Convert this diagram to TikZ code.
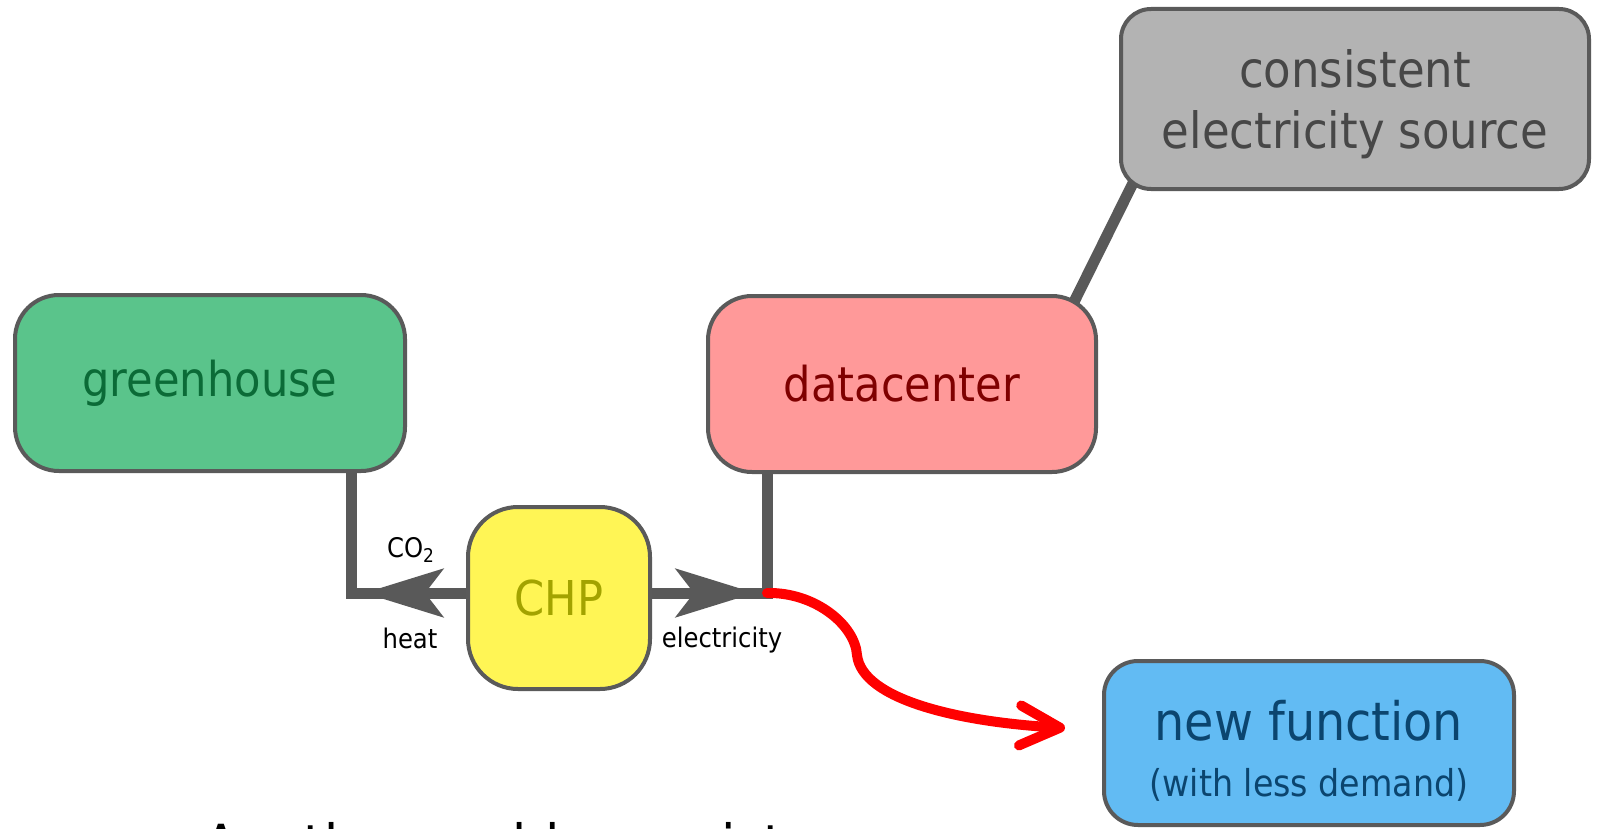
\documentclass[tikz,border=0pt]{standalone}
\usepackage{fontspec}
\setmainfont{DejaVu Sans Condensed}
\usetikzlibrary{arrows.meta,positioning,calc,backgrounds}
\definecolor{edge}{HTML}{5A5A5A}
\definecolor{wire}{HTML}{595959}
\definecolor{alert}{HTML}{FF0000}
\definecolor{ghfill}{HTML}{5AC48B}
\definecolor{ghtext}{HTML}{0B6B37}
\definecolor{dcfill}{HTML}{FF9999}
\definecolor{dctext}{HTML}{7F0000}
\definecolor{srcfill}{HTML}{B3B3B3}
\definecolor{srctext}{HTML}{474747}
\definecolor{chpfill}{HTML}{FFF555}
\definecolor{chptext}{HTML}{A3A300}
\definecolor{newfill}{HTML}{62BBF3}
\definecolor{newtext}{HTML}{0B456F}
\tikzset{
	% standard arrow tip
	>={Stealth[length=39.5pt,width=24pt,inset=9pt]},
	% box style
	box/.style={
		rectangle,
		rounded corners=22pt,
		draw=edge, line width=2pt,
		align=center,
		font=\fontsize{24}{30}\selectfont
	},
	% connector style
	link/.style={
		draw=wire,
		line width=5.5pt
	},
	flow/.style={link, ->},
	% the red one
	newflow/.style={
		draw=alert,
		line width=5pt,
		line cap=round,
		-{Straight Barb[length=20pt,width=20pt,round]}
	},
	tag/.style={font=\fontsize{13.5}{16}\selectfont, text=black}
}
\begin{document}
\begin{tikzpicture}[x=0.5pt, y=-0.5pt]
	\useasboundingbox (0,0) rectangle (1601,829);

	\node[box,fill=ghfill,text=ghtext,minimum width=195pt,minimum height=88pt] (gh) at (210,383)
		{greenhouse};
	\node[box,fill=dcfill,text=dctext,minimum width=194pt,minimum height=88pt] (dc) at (902,384)
		{datacenter};
	\node[box,fill=srcfill,text=srctext,rounded corners=15pt,minimum width=234pt,minimum height=90pt,
		font=\fontsize{25}{30.5}\selectfont] (src) at (1355,99)
		{\rule{0pt}{24pt}consistent\\electricity source};
	\node[box,fill=chpfill,text=chptext,rounded corners=25pt,minimum width=91pt,minimum height=91pt] (chp) at (559,598)
		{CHP};
	\node[box,fill=newfill,text=newtext,rounded corners=17pt,minimum width=205pt,minimum height=82pt,
		font=\fontsize{26.5}{28}\selectfont] (newf) at (1309,743)
		{\rule{0pt}{28pt}new function\\{\fontsize{18.5}{22}\selectfont (with less demand)}};

	\node[tag] (co2) at (411,550) {CO\textsubscript{2}};
	\node[tag] (heat) at (410,638) {heat};
	\node[tag] (elec) at (722,640) {electricity};

	\node[anchor=base west,font=\fontsize{29}{35}\selectfont] (note) at (196,866)
		{Another problem exists};

	\coordinate (gcorner) at (351,593);
	\coordinate (ecorner) at (767,593);
	\coordinate (heattip) at (364,593);
	\coordinate (electip) at (755,593);
	\coordinate (newtip) at (1065,728);

	\begin{scope}[on background layer]
		\draw[link] ($(dc.north east)+(-26,12)$) -- ($(src.south west)+(16,-12)$);
		\draw[link] (gcorner |- gh.south) -- (gcorner) -- (gcorner -| chp.west);
		\draw[link] (ecorner |- dc.south) -- (ecorner) -- (ecorner -| chp.east);
	\end{scope}
	\draw[flow] (gcorner -| chp.west) -- (heattip);
	\draw[flow] (ecorner -| chp.east) -- (electip);

	\draw[newflow] (ecorner) .. controls (815,592) and (855,625) .. (857,655)
		.. controls (862,700) and (960,722) .. (newtip);
\end{tikzpicture}
\end{document}
